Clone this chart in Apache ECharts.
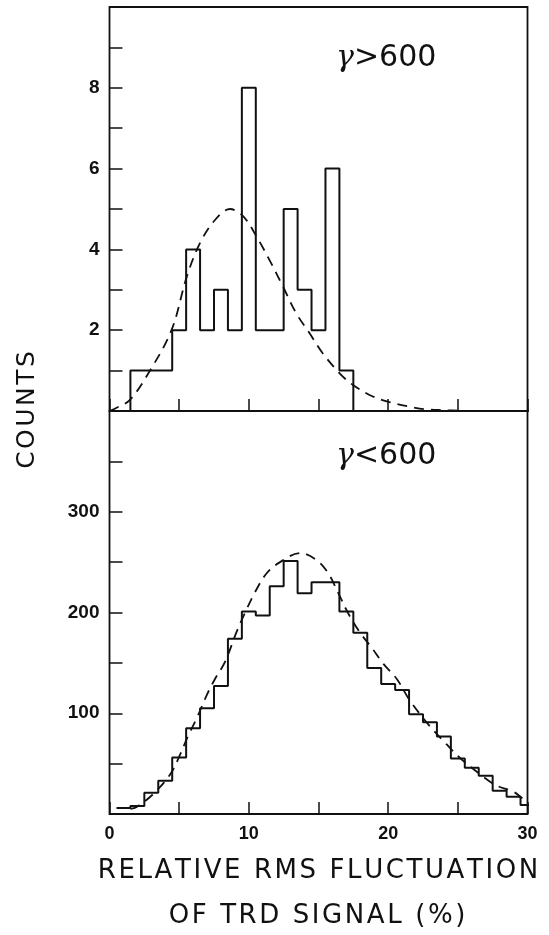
<!DOCTYPE html>
<html>
<head>
<meta charset="utf-8">
<script src="https://cdn.jsdelivr.net/npm/echarts@6/dist/echarts.min.js"></script>
<style>
  html, body { margin: 0; padding: 0; background: #fff; }
  #chart { width: 549px; height: 935px; }
</style>
</head>
<body>
<div id="chart"></div>
<script>
// histogram bins, width 1, centred on these values (%)
const binCenters = [1, 2, 3, 4, 5, 6, 7, 8, 9, 10, 11, 12, 13, 14, 15,
  16, 17, 18, 19, 20, 21, 22, 23, 24, 25, 26, 27, 28, 29, 30];

// gamma > 600
const countsHigh = [0, 1, 1, 1, 2, 4, 2, 3, 2, 8, 2, 2, 5, 3, 2,
  6, 1, 0, 0, 0, 0, 0, 0, 0, 0, 0, 0, 0, 0, 0];
// gamma < 600
const countsLow = [6, 8, 21, 33, 56, 85, 105, 127, 174, 201, 197, 226, 251, 219, 230,
  230, 201, 180, 145, 129, 123, 99, 91, 77, 55, 46, 38, 23, 17, 9];

// dashed fit curves
const fitHighX = [0, 0.45, 1.45, 2.8, 4.45, 5.55, 6.5, 7.6, 8.65, 9.6, 10.55, 11.6, 12.45,
  13.4, 14.35, 15.3, 16.5, 17.45, 18.9, 20.1, 21.5, 22.7, 24.1, 25.5];
const fitHighY = [0, 0.07, 0.27, 0.94, 2.0, 3.33, 4.16, 4.74, 5.0, 4.82, 4.32, 3.66, 3.08,
  2.42, 1.93, 1.43, 0.94, 0.65, 0.36, 0.22, 0.11, 0.04, 0.02, 0];
const fitLowX = [1.5, 1.95, 3.15, 4.34, 4.94, 5.66, 6.26, 6.98, 7.57, 8.29, 9.1, 9.6, 10.44,
  11.28, 12.24, 13.68, 14.87, 15.7, 16.43, 17.14, 17.98, 18.82, 19.66, 20.62, 21.45, 22.29,
  23.25, 24.2, 25.28, 26.36, 27.67, 29, 29.6, 30];
const fitLowY = [5, 7, 20, 39, 55, 78, 95, 118, 134, 151, 180, 196, 220,
  239, 250, 259, 252, 239, 219, 199, 180, 165, 149, 134, 115, 99,
  83, 69, 54, 42, 29, 22, 16, 12];

const yLabelsHigh = [2, 4, 6, 8];
const yLabelsLow = [100, 200, 300];
const xLabels = [0, 10, 20, 30];

function outline(counts) {
  const pts = [];
  counts.forEach((c, i) => {
    pts.push([binCenters[i] - 0.5, c]);
    pts.push([binCenters[i] + 0.5, c]);
  });
  return pts;
}
const zip = (xs, ys) => xs.map((x, i) => [x, ys[i]]);
// the original lettering is widely spaced
const spaced = s => s.split('').join('\u200A');

const black = '#111';
const tickFont = {color: black, fontFamily: 'Liberation Sans', fontWeight: 'bold', fontSize: 19};

function xAxis(idx, showLabels) {
  return {
    type: 'value', gridIndex: idx, min: 0, max: 30, interval: 5,
    axisLine: {show: false},
    axisTick: {show: true, inside: true, length: 12, lineStyle: {color: black, width: 1.5}},
    splitLine: {show: false},
    axisLabel: {
      show: showLabels, margin: 11, ...tickFont, fontSize: 18,
      formatter: v => xLabels.includes(v) ? String(v) : ''
    }
  };
}
function yAxis(idx, max, interval, labels) {
  return {
    type: 'value', gridIndex: idx, min: 0, max: max, interval: interval,
    axisLine: {show: false},
    axisTick: {show: true, inside: true, length: 13, lineStyle: {color: black, width: 1.5}},
    splitLine: {show: false},
    axisLabel: {margin: 10, ...tickFont, formatter: v => labels.includes(v) ? String(v) : ''}
  };
}

const gammaRich = {
  g: {fontFamily: 'DejaVu Serif', fontStyle: 'italic', fontSize: 30, fill: black},
  t: {fontFamily: 'DejaVu Sans', fontSize: 30, fill: black}
};

const chart = echarts.init(document.getElementById('chart'));
chart.setOption({
  animation: false,
  backgroundColor: '#fff',
  grid: [
    {left: 109.5, right: 21.5, top: 7, height: 404, show: true, borderColor: black, borderWidth: 1.8},
    {left: 109.5, right: 21.5, top: 411, height: 403, show: true, borderColor: black, borderWidth: 1.8}
  ],
  xAxis: [xAxis(0, false), xAxis(1, true)],
  yAxis: [yAxis(0, 10, 1, yLabelsHigh), yAxis(1, 400, 50, yLabelsLow)],
  series: [
    {type: 'line', xAxisIndex: 0, yAxisIndex: 0, data: outline(countsHigh), symbol: 'none',
      lineStyle: {color: black, width: 2}},
    {type: 'line', xAxisIndex: 0, yAxisIndex: 0, data: zip(fitHighX, fitHighY), symbol: 'none',
      smooth: 0.35, lineStyle: {color: black, width: 1.8, type: [10, 7]}},
    {type: 'line', xAxisIndex: 1, yAxisIndex: 1, data: outline(countsLow), symbol: 'none',
      lineStyle: {color: black, width: 2}},
    {type: 'line', xAxisIndex: 1, yAxisIndex: 1, data: zip(fitLowX, fitLowY), symbol: 'none',
      smooth: 0.35, lineStyle: {color: black, width: 1.8, type: [10, 7]}}
  ],
  graphic: [
    {type: 'text', x: 336, y: 58, style: {
      text: '{g|γ}{t|>600}', verticalAlign: 'middle', fill: black, rich: gammaRich
    }},
    {type: 'text', x: 336, y: 456, style: {
      text: '{g|γ}{t|<600}', verticalAlign: 'middle', fill: black, rich: gammaRich
    }},
    {type: 'text', x: 27, y: 410, rotation: Math.PI / 2, style: {
      text: spaced('COUNTS'), align: 'center', verticalAlign: 'middle', fill: black,
      fontFamily: 'DejaVu Sans', fontSize: 25
    }},
    {type: 'text', x: 318, y: 871, style: {
      text: spaced('RELATIVE RMS FLUCTUATION'), align: 'center', verticalAlign: 'middle', fill: black,
      fontFamily: 'DejaVu Sans', fontSize: 26
    }},
    {type: 'text', x: 317, y: 916, style: {
      text: spaced('OF TRD SIGNAL (%)'), align: 'center', verticalAlign: 'middle', fill: black,
      fontFamily: 'DejaVu Sans', fontSize: 26
    }}
  ]
});
</script>
</body>
</html>
